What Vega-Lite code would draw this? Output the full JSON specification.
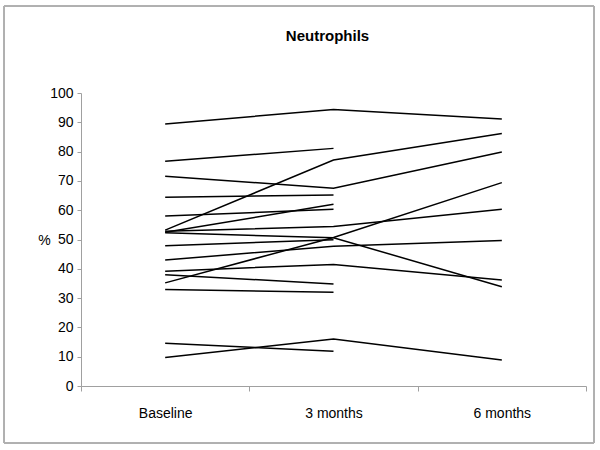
{
  "$schema": "https://vega.github.io/schema/vega-lite/v6.json",
  "autosize": "none",
  "width": 505,
  "height": 293,
  "padding": {"left": 81, "top": 93, "right": 14, "bottom": 64},
  "background": "white",
  "title": {
    "text": "Neutrophils",
    "font": "Liberation Sans",
    "fontSize": 15,
    "fontWeight": "bold",
    "color": "black",
    "anchor": "middle",
    "frame": "group",
    "baseline": "alphabetic",
    "dx": -6,
    "offset": -50
  },
  "config": {
    "view": {"stroke": null},
    "axis": {
      "labelFont": "Liberation Sans",
      "labelFontSize": 14,
      "labelColor": "black",
      "titleFont": "Liberation Sans",
      "titleFontSize": 14,
      "titleFontWeight": "normal",
      "titleColor": "black",
      "domainColor": "#a0a0a0",
      "tickColor": "#a0a0a0",
      "grid": false
    }
  },
  "data": {
    "values": [
      {"id": 1, "time": "Baseline", "value": 89.4}, {"id": 1, "time": "3 months", "value": 94.4}, {"id": 1, "time": "6 months", "value": 91.1},
      {"id": 2, "time": "Baseline", "value": 76.7}, {"id": 2, "time": "3 months", "value": 81.1},
      {"id": 3, "time": "Baseline", "value": 71.6}, {"id": 3, "time": "3 months", "value": 67.5}, {"id": 3, "time": "6 months", "value": 79.9},
      {"id": 4, "time": "Baseline", "value": 64.4}, {"id": 4, "time": "3 months", "value": 65.2},
      {"id": 5, "time": "Baseline", "value": 58.0}, {"id": 5, "time": "3 months", "value": 60.3},
      {"id": 6, "time": "Baseline", "value": 53.2}, {"id": 6, "time": "3 months", "value": 77.1}, {"id": 6, "time": "6 months", "value": 86.2},
      {"id": 7, "time": "Baseline", "value": 52.5}, {"id": 7, "time": "3 months", "value": 62.0},
      {"id": 8, "time": "Baseline", "value": 52.8}, {"id": 8, "time": "3 months", "value": 54.4}, {"id": 8, "time": "6 months", "value": 60.3},
      {"id": 9, "time": "Baseline", "value": 52.3}, {"id": 9, "time": "3 months", "value": 50.6}, {"id": 9, "time": "6 months", "value": 33.9},
      {"id": 10, "time": "Baseline", "value": 47.9}, {"id": 10, "time": "3 months", "value": 49.9},
      {"id": 11, "time": "Baseline", "value": 43.0}, {"id": 11, "time": "3 months", "value": 47.7}, {"id": 11, "time": "6 months", "value": 49.7},
      {"id": 12, "time": "Baseline", "value": 39.2}, {"id": 12, "time": "3 months", "value": 41.5}, {"id": 12, "time": "6 months", "value": 36.2},
      {"id": 13, "time": "Baseline", "value": 38.0}, {"id": 13, "time": "3 months", "value": 34.8},
      {"id": 14, "time": "Baseline", "value": 35.2}, {"id": 14, "time": "3 months", "value": 50.7}, {"id": 14, "time": "6 months", "value": 69.4},
      {"id": 15, "time": "Baseline", "value": 32.9}, {"id": 15, "time": "3 months", "value": 32.0},
      {"id": 16, "time": "Baseline", "value": 14.6}, {"id": 16, "time": "3 months", "value": 11.9},
      {"id": 17, "time": "Baseline", "value": 9.7}, {"id": 17, "time": "3 months", "value": 16.0}, {"id": 17, "time": "6 months", "value": 8.9}
    ]
  },
  "layer": [
    {
      "mark": {"type": "rect", "filled": false, "stroke": "#b0b0b0", "strokeWidth": 1, "clip": false},
      "encoding": {
        "x": {"datum": 0, "type": "quantitative", "scale": {"domain": [0, 1], "range": [-77, 513]}, "axis": null},
        "x2": {"datum": 1},
        "y": {"datum": 0, "type": "quantitative", "scale": {"domain": [0, 1], "range": [350, -87]}, "axis": null},
        "y2": {"datum": 1}
      }
    },
    {
      "mark": {"type": "line", "color": "black", "strokeWidth": 1.5},
      "encoding": {
        "x": {
          "field": "time",
          "type": "ordinal",
          "sort": ["Baseline", "3 months", "6 months"],
          "bandPosition": 0.5,
          "scale": {"type": "band", "paddingInner": 0, "paddingOuter": 0},
          "axis": {
            "title": null,
            "labelAngle": 0,
            "tickBand": "extent",
            "tickSize": 5,
            "labelPadding": 15
          }
        },
        "y": {
          "field": "value",
          "type": "quantitative",
          "scale": {"domain": [0, 100], "nice": false, "zero": false},
          "axis": {
            "title": "%",
            "titleAngle": 0,
            "titleAlign": "center",
            "titleBaseline": "middle",
            "titleX": -37,
            "titleY": 147,
            "values": [0, 10, 20, 30, 40, 50, 60, 70, 80, 90, 100],
            "labelOverlap": false,
            "tickSize": 4,
            "labelPadding": 4
          }
        },
        "detail": {"field": "id", "type": "nominal"}
      }
    }
  ],
  "resolve": {
    "scale": {"x": "independent", "y": "independent"},
    "axis": {"x": "independent", "y": "independent"}
  }
}
